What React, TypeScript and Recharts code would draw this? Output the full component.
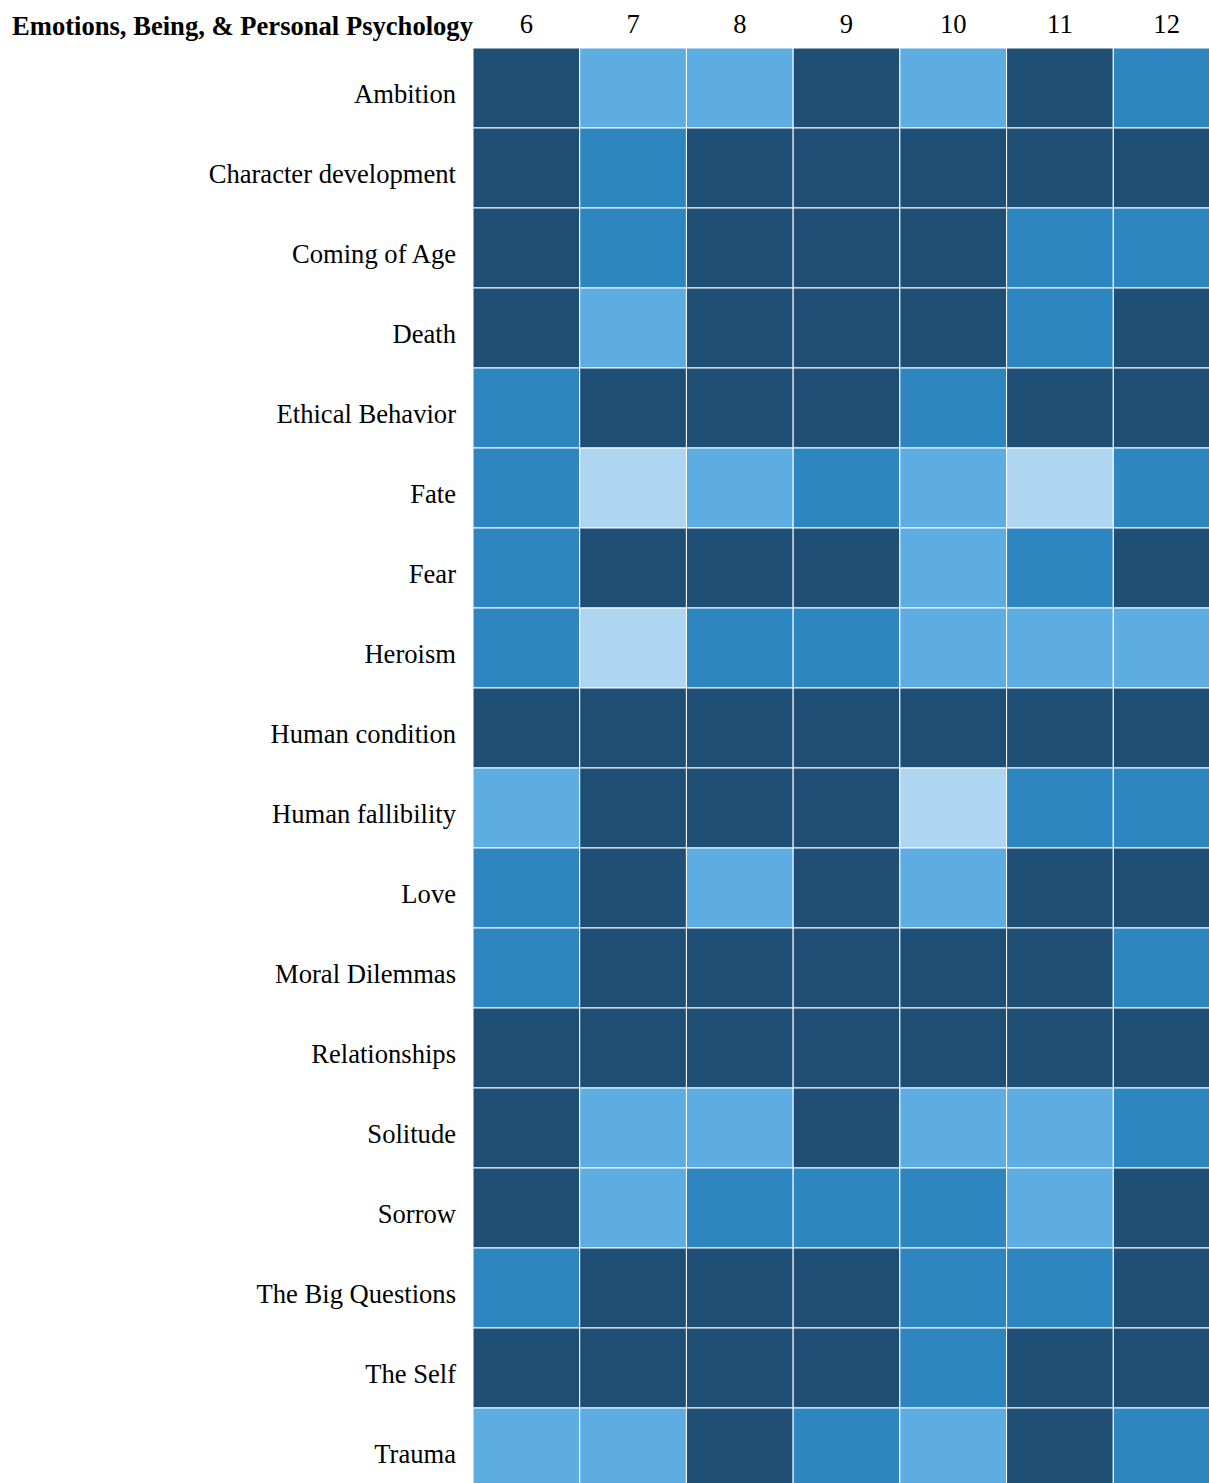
import { BarChart, Bar, XAxis, YAxis, Cell } from 'recharts'

const grades = ['6', '7', '8', '9', '10', '11', '12']

const topics = [
  'Ambition',
  'Character development',
  'Coming of Age',
  'Death',
  'Ethical Behavior',
  'Fate',
  'Fear',
  'Heroism',
  'Human condition',
  'Human fallibility',
  'Love',
  'Moral Dilemmas',
  'Relationships',
  'Solitude',
  'Sorrow',
  'The Big Questions',
  'The Self',
  'Trauma',
]

// coverage level per topic, one list per grade (0 = lowest, 3 = highest)
const grade6 = [3, 3, 3, 3, 2, 2, 2, 2, 3, 1, 2, 2, 3, 3, 3, 2, 3, 1]
const grade7 = [1, 2, 2, 1, 3, 0, 3, 0, 3, 3, 3, 3, 3, 1, 1, 3, 3, 1]
const grade8 = [1, 3, 3, 3, 3, 1, 3, 2, 3, 3, 1, 3, 3, 1, 2, 3, 3, 3]
const grade9 = [3, 3, 3, 3, 3, 2, 3, 2, 3, 3, 3, 3, 3, 3, 2, 3, 3, 2]
const grade10 = [1, 3, 3, 3, 2, 1, 1, 1, 3, 0, 1, 3, 3, 1, 2, 2, 2, 1]
const grade11 = [3, 3, 2, 2, 3, 0, 2, 1, 3, 2, 3, 3, 3, 1, 1, 2, 3, 3]
const grade12 = [2, 3, 2, 3, 3, 2, 3, 1, 3, 2, 3, 2, 3, 2, 3, 3, 3, 2]

const levels = [grade6, grade7, grade8, grade9, grade10, grade11, grade12]
const palette = ['#aed6f1', '#5dade2', '#2e86c1', '#1f4e74']

const title = 'Emotions, Being, & Personal Psychology'

const data = topics.map((topic) => {
  const row: Record<string, string | number> = { topic }
  grades.forEach((g) => {
    row['g' + g] = 1
  })
  return row
})

const font = '"Liberation Serif", "Times New Roman", serif'

const TopicTick = ({ x, y, payload }: any) => (
  <text x={x - 9} y={y + 15} textAnchor="end" fill="#000" fontSize={26.6} fontFamily={font}>
    {payload.value}
  </text>
)

const GradeTick = ({ x, payload }: any) => (
  <text x={x} y={33} textAnchor="middle" fill="#000" fontSize={26.6} fontFamily={font}>
    {grades[Math.floor(payload.value)]}
  </text>
)

export default function App() {
  return (
    <div style={{ position: 'absolute', left: 0, top: 0, width: 1209, height: 1483, overflow: 'hidden', background: '#fff' }}>
      <BarChart
        width={1220}
        height={1488}
        data={data}
        layout="vertical"
        margin={{ top: 0, right: 0, left: 0, bottom: 0 }}
        barCategoryGap={0}
        barGap={0}
      >
        <XAxis
          type="number"
          orientation="top"
          domain={[0, 7]}
          ticks={grades.map((_, i) => i + 0.5)}
          height={48}
          axisLine={false}
          tickLine={false}
          tick={<GradeTick />}
          interval={0}
        />
        <YAxis
          type="category"
          dataKey="topic"
          width={473}
          axisLine={false}
          tickLine={false}
          tick={<TopicTick />}
          interval={0}
        />
        {grades.map((g, gi) => (
          <Bar key={g} dataKey={'g' + g} stackId="cells" isAnimationActive={false}>
            {topics.map((t, ti) => (
              <Cell key={t} fill={palette[levels[gi][ti]]} stroke="#ffffff" strokeWidth={1} />
            ))}
          </Bar>
        ))}
      </BarChart>
      <svg width={473} height={48} style={{ position: 'absolute', left: 0, top: 0 }}>
        <text x={12} y={35} fill="#000" fontSize={26.6} fontWeight="bold" fontFamily={font}>
          {title}
        </text>
      </svg>
    </div>
  )
}
